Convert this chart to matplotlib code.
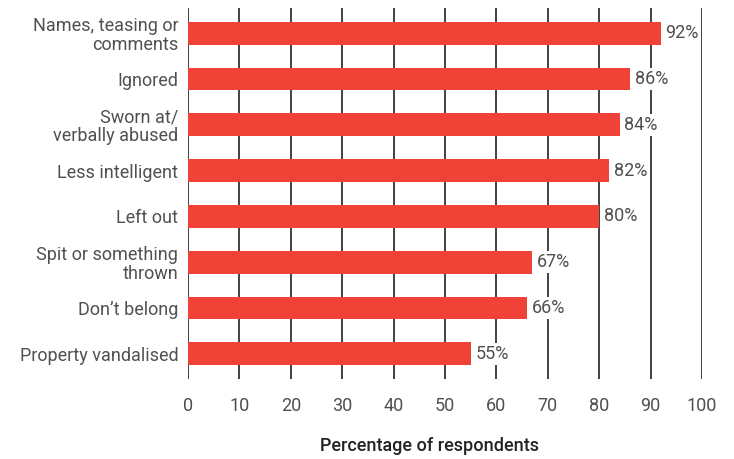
import matplotlib
matplotlib.use("Agg")
import matplotlib.pyplot as plt

categories = ["Names, teasing or\ncomments", "Ignored", "Sworn at/\nverbally abused",
              "Less intelligent", "Left out", "Spit or something\nthrown",
              "Don\u2019t belong", "Property vandalised"]
values = [92, 86, 84, 82, 80, 67, 66, 55]
xticks = [0, 10, 20, 30, 40, 50, 60, 70, 80, 90, 100]

plt.rcParams['font.family'] = ['Roboto', 'DejaVu Sans']
text_color = "#505050"
bar_color = "#F04237"
fs = 13

fig = plt.figure(figsize=(7.34, 4.59), dpi=100)
ax = fig.add_axes([188/734, 1-379/459, 514/734, 371/459])

ypos = list(range(len(categories)))
ax.barh(ypos, values, height=0.5, color=bar_color, zorder=3)
ax.set_ylim(len(categories) - 0.45, -0.55)
ax.set_xlim(0, 100)
ax.set_xticks(xticks)
ax.set_xticklabels([str(t) for t in xticks], fontsize=fs, color=text_color)
ax.set_yticks(ypos)
ax.set_yticklabels(categories, fontsize=fs, color=text_color, linespacing=1.05)
ax.tick_params(axis='y', length=0, pad=7)
ax.tick_params(axis='x', length=0, pad=13)
for x in xticks:
    ax.axvline(x, color="#333333", linewidth=1.3, zorder=1)
for s in ax.spines.values():
    s.set_visible(False)

for y, v in zip(ypos, values):
    ax.text(v + 0.9, y, f"{v}%", va='center', ha='left', fontsize=fs, color=text_color,
            zorder=4, bbox=dict(facecolor='white', edgecolor='none', pad=1.5))

fig.text(429/734, 1-446/459, "Percentage of respondents", ha='center', va='center',
         fontsize=fs, fontweight='medium', color="#222222")

fig.savefig("out.png", dpi=100)
